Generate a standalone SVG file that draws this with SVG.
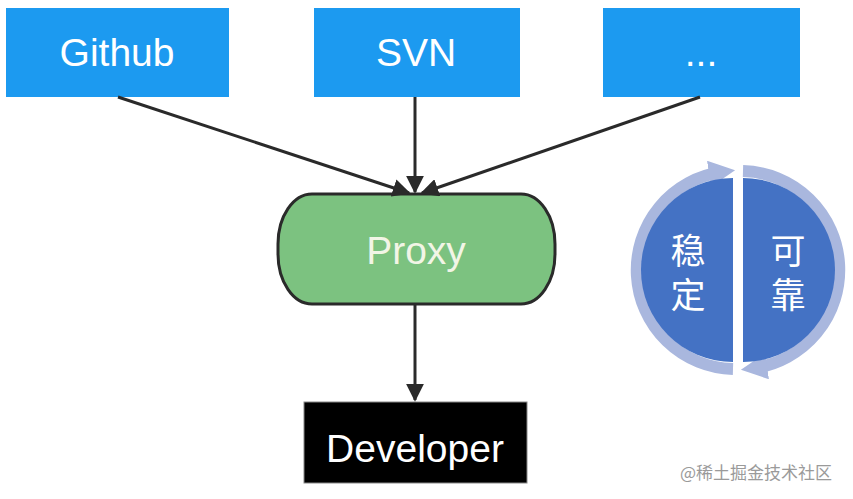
<svg xmlns="http://www.w3.org/2000/svg" width="853" height="499" viewBox="0 0 853 499">
<defs>
<style>
.src rect{fill:#1C9AF0}
.lbl{font-family:"Liberation Sans",Arial,sans-serif;fill:#fff;text-anchor:middle;font-size:39px}
.cjk{font-family:"Noto Sans CJK SC",sans-serif;fill:#fff;text-anchor:middle;font-size:35px;writing-mode:vertical-rl;letter-spacing:9px}
.edge{stroke:#2a2a2a;stroke-width:3;fill:none;marker-end:url(#ah)}
</style>
<marker id="ah" viewBox="0 0 10 10" refX="9" refY="5" markerWidth="6" markerHeight="6" markerUnits="strokeWidth" orient="auto">
<path d="M0,0 L10,5 L0,10 z" fill="#2a2a2a"/>
</marker>
<marker id="ring" viewBox="0 0 10 10" refX="5" refY="5" markerWidth="2.2" markerHeight="2.2" markerUnits="strokeWidth" orient="auto">
<path d="M0,0 L10,5 L0,10 z" fill="#A9B7DE"/>
</marker>
</defs>
<rect width="853" height="499" fill="#fff"/>
<g id="github" class="src"><rect x="6" y="8" width="223" height="89"/><text class="lbl" x="117" y="66">Github</text></g>
<g id="svn" class="src"><rect x="314" y="8" width="206" height="89"/><text class="lbl" x="416" y="66">SVN</text></g>
<g id="more" class="src"><rect x="603" y="8" width="197" height="89"/><text class="lbl" x="701" y="66">...</text></g>
<g id="proxy"><rect x="278" y="194" width="277" height="110" rx="34" ry="50" fill="#7CC280" stroke="#2a2a2a" stroke-width="3"/><text class="lbl" x="416" y="264" style="fill:#F2F5E6">Proxy</text></g>
<g id="developer"><rect x="304" y="402" width="223" height="81" fill="#000" stroke="#888" stroke-width="1"/><text class="lbl" x="415" y="462">Developer</text></g>
<g id="connectors">
<line class="edge" x1="118" y1="97" x2="409" y2="193"/>
<line class="edge" x1="415" y1="97" x2="415" y2="192"/>
<line class="edge" x1="700" y1="97" x2="422" y2="193"/>
<line class="edge" x1="415" y1="305" x2="415" y2="400"/>
</g>
<g id="cycle">
<path d="M733,369 A99,99 0 0 1 722,172" fill="none" stroke="#A9B7DE" stroke-width="12" marker-end="url(#ring)"/>
<path d="M743,171 A99,99 0 0 1 754,368" fill="none" stroke="#A9B7DE" stroke-width="12" marker-end="url(#ring)"/>
<path d="M733,178 A92,92 0 0 0 733,362 Z" fill="#4472C4"/>
<path d="M743,178 A92,92 0 0 1 743,362 Z" fill="#4472C4"/>
<text class="cjk" x="688" y="277">稳定</text>
<text class="cjk" x="788" y="277">可靠</text>
</g>
<text x="756" y="479" font-family="Noto Sans CJK SC,sans-serif" font-size="17" fill="#9a9a9a" text-anchor="middle">@稀土掘金技术社区</text>
</svg>
